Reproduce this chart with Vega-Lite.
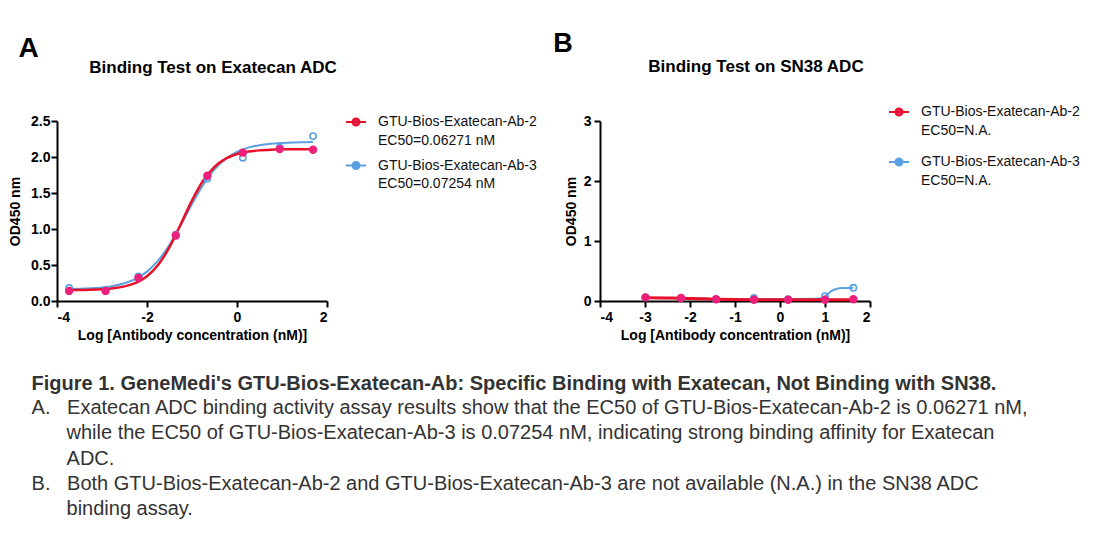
{
  "$schema": "https://vega.github.io/schema/vega-lite/v6.json",
  "background": "white",
  "padding": {"left": 8, "top": 30, "right": 5, "bottom": 5},
  "spacing": 16,
  "resolve": {"scale": {"color": "independent"}, "legend": {"color": "independent"}},
  "datasets": {
    "curveA": [
      {"series": "GTU-Bios-Exatecan-Ab-2", "logc": -3.73, "od": 0.152},
      {"series": "GTU-Bios-Exatecan-Ab-2", "logc": -3.5, "od": 0.153},
      {"series": "GTU-Bios-Exatecan-Ab-2", "logc": -3.25, "od": 0.157},
      {"series": "GTU-Bios-Exatecan-Ab-2", "logc": -3.0, "od": 0.164},
      {"series": "GTU-Bios-Exatecan-Ab-2", "logc": -2.75, "od": 0.177},
      {"series": "GTU-Bios-Exatecan-Ab-2", "logc": -2.5, "od": 0.203},
      {"series": "GTU-Bios-Exatecan-Ab-2", "logc": -2.25, "od": 0.253},
      {"series": "GTU-Bios-Exatecan-Ab-2", "logc": -2.0, "od": 0.345},
      {"series": "GTU-Bios-Exatecan-Ab-2", "logc": -1.75, "od": 0.504},
      {"series": "GTU-Bios-Exatecan-Ab-2", "logc": -1.5, "od": 0.748},
      {"series": "GTU-Bios-Exatecan-Ab-2", "logc": -1.25, "od": 1.066},
      {"series": "GTU-Bios-Exatecan-Ab-2", "logc": -1.0, "od": 1.397},
      {"series": "GTU-Bios-Exatecan-Ab-2", "logc": -0.75, "od": 1.674},
      {"series": "GTU-Bios-Exatecan-Ab-2", "logc": -0.5, "od": 1.864},
      {"series": "GTU-Bios-Exatecan-Ab-2", "logc": -0.25, "od": 1.978},
      {"series": "GTU-Bios-Exatecan-Ab-2", "logc": 0.0, "od": 2.042},
      {"series": "GTU-Bios-Exatecan-Ab-2", "logc": 0.25, "od": 2.075},
      {"series": "GTU-Bios-Exatecan-Ab-2", "logc": 0.5, "od": 2.092},
      {"series": "GTU-Bios-Exatecan-Ab-2", "logc": 0.75, "od": 2.101},
      {"series": "GTU-Bios-Exatecan-Ab-2", "logc": 1.0, "od": 2.106},
      {"series": "GTU-Bios-Exatecan-Ab-2", "logc": 1.25, "od": 2.108},
      {"series": "GTU-Bios-Exatecan-Ab-2", "logc": 1.5, "od": 2.109},
      {"series": "GTU-Bios-Exatecan-Ab-2", "logc": 1.69, "od": 2.109},
      {"series": "GTU-Bios-Exatecan-Ab-3", "logc": -3.73, "od": 0.165},
      {"series": "GTU-Bios-Exatecan-Ab-3", "logc": -3.5, "od": 0.169},
      {"series": "GTU-Bios-Exatecan-Ab-3", "logc": -3.25, "od": 0.176},
      {"series": "GTU-Bios-Exatecan-Ab-3", "logc": -3.0, "od": 0.188},
      {"series": "GTU-Bios-Exatecan-Ab-3", "logc": -2.75, "od": 0.209},
      {"series": "GTU-Bios-Exatecan-Ab-3", "logc": -2.5, "od": 0.246},
      {"series": "GTU-Bios-Exatecan-Ab-3", "logc": -2.25, "od": 0.307},
      {"series": "GTU-Bios-Exatecan-Ab-3", "logc": -2.0, "od": 0.408},
      {"series": "GTU-Bios-Exatecan-Ab-3", "logc": -1.75, "od": 0.564},
      {"series": "GTU-Bios-Exatecan-Ab-3", "logc": -1.5, "od": 0.782},
      {"series": "GTU-Bios-Exatecan-Ab-3", "logc": -1.25, "od": 1.055},
      {"series": "GTU-Bios-Exatecan-Ab-3", "logc": -1.0, "od": 1.348},
      {"series": "GTU-Bios-Exatecan-Ab-3", "logc": -0.75, "od": 1.616},
      {"series": "GTU-Bios-Exatecan-Ab-3", "logc": -0.5, "od": 1.828},
      {"series": "GTU-Bios-Exatecan-Ab-3", "logc": -0.25, "od": 1.976},
      {"series": "GTU-Bios-Exatecan-Ab-3", "logc": 0.0, "od": 2.071},
      {"series": "GTU-Bios-Exatecan-Ab-3", "logc": 0.25, "od": 2.13},
      {"series": "GTU-Bios-Exatecan-Ab-3", "logc": 0.5, "od": 2.164},
      {"series": "GTU-Bios-Exatecan-Ab-3", "logc": 0.75, "od": 2.184},
      {"series": "GTU-Bios-Exatecan-Ab-3", "logc": 1.0, "od": 2.195},
      {"series": "GTU-Bios-Exatecan-Ab-3", "logc": 1.25, "od": 2.202},
      {"series": "GTU-Bios-Exatecan-Ab-3", "logc": 1.5, "od": 2.205},
      {"series": "GTU-Bios-Exatecan-Ab-3", "logc": 1.69, "od": 2.207}
    ],
    "ptsA": [
      {"series": "GTU-Bios-Exatecan-Ab-2", "logc": -3.73, "od": 0.14},
      {"series": "GTU-Bios-Exatecan-Ab-2", "logc": -2.92, "od": 0.14},
      {"series": "GTU-Bios-Exatecan-Ab-2", "logc": -2.19, "od": 0.32},
      {"series": "GTU-Bios-Exatecan-Ab-2", "logc": -1.36, "od": 0.91},
      {"series": "GTU-Bios-Exatecan-Ab-2", "logc": -0.66, "od": 1.74},
      {"series": "GTU-Bios-Exatecan-Ab-2", "logc": 0.13, "od": 2.06},
      {"series": "GTU-Bios-Exatecan-Ab-2", "logc": 0.95, "od": 2.11},
      {"series": "GTU-Bios-Exatecan-Ab-2", "logc": 1.69, "od": 2.1},
      {"series": "GTU-Bios-Exatecan-Ab-3", "logc": -3.73, "od": 0.18},
      {"series": "GTU-Bios-Exatecan-Ab-3", "logc": -2.92, "od": 0.15},
      {"series": "GTU-Bios-Exatecan-Ab-3", "logc": -2.19, "od": 0.34},
      {"series": "GTU-Bios-Exatecan-Ab-3", "logc": -1.36, "od": 0.92},
      {"series": "GTU-Bios-Exatecan-Ab-3", "logc": -0.66, "od": 1.7},
      {"series": "GTU-Bios-Exatecan-Ab-3", "logc": 0.13, "od": 1.99},
      {"series": "GTU-Bios-Exatecan-Ab-3", "logc": 0.95, "od": 2.13},
      {"series": "GTU-Bios-Exatecan-Ab-3", "logc": 1.69, "od": 2.29}
    ],
    "curveB": [
      {"series": "GTU-Bios-Exatecan-Ab-2", "logc": -2.99, "od": 0.055},
      {"series": "GTU-Bios-Exatecan-Ab-2", "logc": -2.5, "od": 0.05},
      {"series": "GTU-Bios-Exatecan-Ab-2", "logc": -2.2, "od": 0.047},
      {"series": "GTU-Bios-Exatecan-Ab-2", "logc": -1.8, "od": 0.038},
      {"series": "GTU-Bios-Exatecan-Ab-2", "logc": -1.42, "od": 0.03},
      {"series": "GTU-Bios-Exatecan-Ab-2", "logc": -1.0, "od": 0.025},
      {"series": "GTU-Bios-Exatecan-Ab-2", "logc": -0.58, "od": 0.022},
      {"series": "GTU-Bios-Exatecan-Ab-2", "logc": 0.18, "od": 0.02},
      {"series": "GTU-Bios-Exatecan-Ab-2", "logc": 1.0, "od": 0.02},
      {"series": "GTU-Bios-Exatecan-Ab-2", "logc": 1.63, "od": 0.022},
      {"series": "GTU-Bios-Exatecan-Ab-3", "logc": -2.99, "od": 0.05},
      {"series": "GTU-Bios-Exatecan-Ab-3", "logc": -2.2, "od": 0.045},
      {"series": "GTU-Bios-Exatecan-Ab-3", "logc": -1.42, "od": 0.035},
      {"series": "GTU-Bios-Exatecan-Ab-3", "logc": -0.58, "od": 0.035},
      {"series": "GTU-Bios-Exatecan-Ab-3", "logc": 0.18, "od": 0.035},
      {"series": "GTU-Bios-Exatecan-Ab-3", "logc": 0.8, "od": 0.036},
      {"series": "GTU-Bios-Exatecan-Ab-3", "logc": 0.95, "od": 0.05},
      {"series": "GTU-Bios-Exatecan-Ab-3", "logc": 1.05, "od": 0.11},
      {"series": "GTU-Bios-Exatecan-Ab-3", "logc": 1.15, "od": 0.17},
      {"series": "GTU-Bios-Exatecan-Ab-3", "logc": 1.25, "od": 0.2},
      {"series": "GTU-Bios-Exatecan-Ab-3", "logc": 1.4, "od": 0.215},
      {"series": "GTU-Bios-Exatecan-Ab-3", "logc": 1.63, "od": 0.22}
    ],
    "ptsB": [
      {"series": "GTU-Bios-Exatecan-Ab-2", "logc": -2.99, "od": 0.06},
      {"series": "GTU-Bios-Exatecan-Ab-2", "logc": -2.2, "od": 0.05},
      {"series": "GTU-Bios-Exatecan-Ab-2", "logc": -1.42, "od": 0.03},
      {"series": "GTU-Bios-Exatecan-Ab-2", "logc": -0.58, "od": 0.02},
      {"series": "GTU-Bios-Exatecan-Ab-2", "logc": 0.18, "od": 0.02},
      {"series": "GTU-Bios-Exatecan-Ab-2", "logc": 1.0, "od": 0.02},
      {"series": "GTU-Bios-Exatecan-Ab-2", "logc": 1.63, "od": 0.03},
      {"series": "GTU-Bios-Exatecan-Ab-3", "logc": -2.99, "od": 0.06},
      {"series": "GTU-Bios-Exatecan-Ab-3", "logc": -2.2, "od": 0.05},
      {"series": "GTU-Bios-Exatecan-Ab-3", "logc": -1.42, "od": 0.03},
      {"series": "GTU-Bios-Exatecan-Ab-3", "logc": -0.58, "od": 0.05},
      {"series": "GTU-Bios-Exatecan-Ab-3", "logc": 0.18, "od": 0.03},
      {"series": "GTU-Bios-Exatecan-Ab-3", "logc": 1.0, "od": 0.08},
      {"series": "GTU-Bios-Exatecan-Ab-3", "logc": 1.63, "od": 0.22}
    ]
  },
  "title": {
    "text": "Figure 1. GeneMedi's GTU-Bios-Exatecan-Ab: Specific Binding with Exatecan, Not Binding with SN38.",
    "subtitle": [
      "A.\u00a0\u00a0\u00a0Exatecan ADC binding activity assay results show that the EC50 of GTU-Bios-Exatecan-Ab-2 is 0.06271 nM,",
      "\u200b\u00a0\u00a0\u00a0\u00a0\u00a0\u00a0\u200awhile the EC50 of GTU-Bios-Exatecan-Ab-3 is 0.07254 nM, indicating strong binding affinity for Exatecan",
      "\u200b\u00a0\u00a0\u00a0\u00a0\u00a0\u00a0\u200aADC.",
      "B.\u00a0\u00a0\u00a0Both GTU-Bios-Exatecan-Ab-2 and GTU-Bios-Exatecan-Ab-3 are not available (N.A.) in the SN38 ADC",
      "\u200b\u00a0\u00a0\u00a0\u00a0\u00a0\u00a0\u200abinding assay."
    ],
    "orient": "bottom",
    "anchor": "start",
    "frame": "bounds",
    "offset": 32,
    "dx": 23,
    "font": "Liberation Sans",
    "fontSize": 20,
    "fontWeight": "bold",
    "color": "#333333",
    "subtitleFont": "Liberation Sans",
    "subtitleFontSize": 20,
    "subtitleColor": "#333333",
    "subtitleLineHeight": 25.3,
    "subtitlePadding": 4
  },
  "hconcat": [
    {
      "title": {"text": "A", "anchor": "start", "frame": "bounds", "fontSize": 28, "fontWeight": "bold", "color": "#000", "dx": 10, "offset": -4},
      "vconcat": [
        {
          "width": 270,
          "height": 180,
          "title": {"text": "Binding Test on Exatecan ADC", "fontSize": 17, "fontWeight": "bold", "color": "#000", "dx": 21, "offset": 37},
          "encoding": {
            "x": {"field": "logc", "type": "quantitative", "scale": {"domain": [-4, 2], "nice": false, "zero": false},
                  "axis": {"values": [-4, -2, 0, 2], "labelExpr": "replace(datum.label, '\u2212', '-')", "title": "Log [Antibody concentration (nM)]", "labelPadding": 3, "titlePadding": 4}},
            "y": {"field": "od", "type": "quantitative", "scale": {"domain": [0, 2.5], "nice": false},
                  "axis": {"values": [0, 0.5, 1, 1.5, 2, 2.5], "format": ".1f", "title": "OD450 nm", "labelPadding": 1, "titlePadding": 8}}
          },
          "layer": [
            {
              "data": {"name": "curveA"},
              "transform": [{"filter": "datum.series == 'GTU-Bios-Exatecan-Ab-3'"}],
              "mark": {"type": "line", "interpolate": "monotone", "strokeWidth": 2},
              "encoding": {
                "color": {"field": "series", "type": "nominal",
                  "scale": {"domain": ["GTU-Bios-Exatecan-Ab-2", "GTU-Bios-Exatecan-Ab-3"], "range": ["#e8102a", "#5ba0e0"]},
                  "legend": {"orient": "none", "legendX": 288, "legendY": -10, "title": null, "rowPadding": 6.5,
                    "labelExpr": "datum.label == 'GTU-Bios-Exatecan-Ab-2' ? ['GTU-Bios-Exatecan-Ab-2', 'EC50=0.06271 nM'] : ['GTU-Bios-Exatecan-Ab-3', 'EC50=0.07254 nM']",
                    "encode": {
                      "labels": {"update": {"lineHeight": {"value": 18.5}}},
                      "symbols": {"update": {"fill": {"signal": "datum.value == 'GTU-Bios-Exatecan-Ab-2' ? '#ee1f7a' : '#5ba0e0'"}}}
                    }}}
              }
            },
            {
              "data": {"name": "curveA"},
              "transform": [{"filter": "datum.series == 'GTU-Bios-Exatecan-Ab-2'"}],
              "mark": {"type": "line", "interpolate": "monotone", "strokeWidth": 2.5},
              "encoding": {"color": {"field": "series", "type": "nominal"}}
            },
            {
              "data": {"name": "ptsA"},
              "transform": [{"filter": "datum.series == 'GTU-Bios-Exatecan-Ab-3'"}],
              "mark": {"type": "point", "filled": false, "color": "#5ba0e0", "size": 40, "strokeWidth": 1.6, "opacity": 1}
            },
            {
              "data": {"name": "ptsA"},
              "transform": [{"filter": "datum.series == 'GTU-Bios-Exatecan-Ab-2'"}],
              "mark": {"type": "circle", "color": "#ee1f7a", "size": 70, "opacity": 1}
            }
          ]
        }
      ]
    },
    {
      "title": {"text": "B", "anchor": "start", "frame": "bounds", "fontSize": 27, "fontWeight": "bold", "color": "#000", "dx": -11, "offset": 0},
      "vconcat": [
        {
          "width": 270,
          "height": 180,
          "title": {"text": "Binding Test on SN38 ADC", "fontSize": 17, "fontWeight": "bold", "color": "#000", "dx": 21, "offset": 38},
          "encoding": {
            "x": {"field": "logc", "type": "quantitative", "scale": {"domain": [-4, 2], "nice": false, "zero": false},
                  "axis": {"values": [-4, -3, -2, -1, 0, 1, 2], "labelExpr": "replace(datum.label, '\u2212', '-')", "title": "Log [Antibody concentration (nM)]", "labelPadding": 3, "titlePadding": 4}},
            "y": {"field": "od", "type": "quantitative", "scale": {"domain": [0, 3], "nice": false},
                  "axis": {"values": [0, 1, 2, 3], "title": "OD450 nm", "labelPadding": 3, "titlePadding": 5}}
          },
          "layer": [
            {
              "data": {"name": "curveB"},
              "transform": [{"filter": "datum.series == 'GTU-Bios-Exatecan-Ab-3'"}],
              "mark": {"type": "line", "interpolate": "monotone", "strokeWidth": 2},
              "encoding": {
                "color": {"field": "series", "type": "nominal",
                  "scale": {"domain": ["GTU-Bios-Exatecan-Ab-2", "GTU-Bios-Exatecan-Ab-3"], "range": ["#e8102a", "#5ba0e0"]},
                  "legend": {"orient": "none", "legendX": 288, "legendY": -20, "title": null, "rowPadding": 12,
                    "labelExpr": "[datum.label, 'EC50=N.A.']",
                    "encode": {
                      "labels": {"update": {"lineHeight": {"value": 19.3}}},
                      "symbols": {"update": {"fill": {"signal": "datum.value == 'GTU-Bios-Exatecan-Ab-2' ? '#ee1f7a' : '#5ba0e0'"}}}
                    }}}
              }
            },
            {
              "data": {"name": "curveB"},
              "transform": [{"filter": "datum.series == 'GTU-Bios-Exatecan-Ab-2'"}],
              "mark": {"type": "line", "interpolate": "monotone", "strokeWidth": 3},
              "encoding": {"color": {"field": "series", "type": "nominal"}}
            },
            {
              "data": {"name": "ptsB"},
              "transform": [{"filter": "datum.series == 'GTU-Bios-Exatecan-Ab-3'"}],
              "mark": {"type": "point", "filled": false, "color": "#5ba0e0", "size": 40, "strokeWidth": 1.6, "opacity": 1}
            },
            {
              "data": {"name": "ptsB"},
              "transform": [{"filter": "datum.series == 'GTU-Bios-Exatecan-Ab-2'"}],
              "mark": {"type": "circle", "color": "#ee1f7a", "size": 70, "opacity": 1}
            }
          ]
        }
      ]
    }
  ],
  "config": {
    "view": {"stroke": null},
    "font": "Liberation Sans",
    "title": {"font": "Liberation Sans"},
    "axis": {
      "grid": false,
      "domainColor": "#000", "domainWidth": 2,
      "tickColor": "#000", "tickWidth": 2, "tickSize": 6,
      "labelFont": "Liberation Sans", "labelFontWeight": "bold", "labelFontSize": 14, "labelColor": "#000",
      "titleFont": "Liberation Sans", "titleFontWeight": "bold", "titleFontSize": 14, "titleColor": "#000"
    },
    "legend": {
      "labelFont": "Liberation Sans", "labelFontSize": 14, "labelColor": "#111", "labelLimit": 400,
      "labelBaseline": "middle", "labelOffset": 11,
      "symbolType": "M-1,0H1M0.35,0A0.35,0.35 0 1,1 -0.35,0A0.35,0.35 0 1,1 0.35,0Z",
      "symbolSize": 400, "symbolStrokeWidth": 2, "symbolOpacity": 1
    }
  }
}
